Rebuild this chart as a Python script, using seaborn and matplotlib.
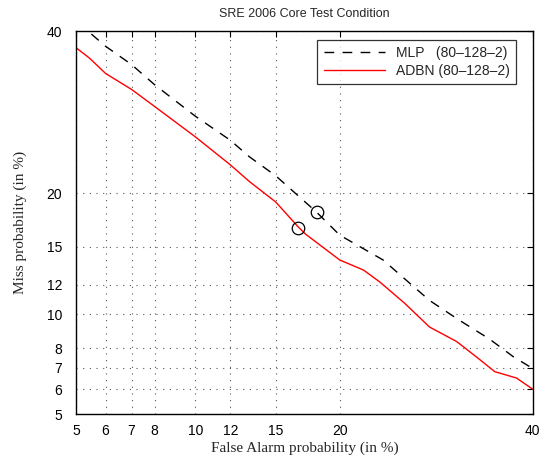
import math
import numpy as np
import pandas as pd
import matplotlib
matplotlib.use("Agg")
import matplotlib.pyplot as plt
import seaborn as sns

# DET curve values (percent)
mlp_fa = [5.5, 6, 7, 8, 10, 12, 13.2, 15, 18.1, 20, 23.9, 26.2, 28.5, 31.7, 35.0, 37.7, 40]
mlp_miss = [39.6, 37.9, 35.4, 32.7, 28.7, 25.8, 23.9, 21.8, 18.1, 16.0, 13.9, 12.3, 10.9, 9.6, 8.5, 7.55, 6.95]

adbn_fa = [5, 5.43, 6, 7, 8, 10, 12, 13.2, 15, 16.6, 17.2, 20, 22.1, 23.6, 26.0, 28.5, 31.4, 33.9, 35.6, 38.1, 40]
adbn_miss = [37.7, 36.3, 34.2, 32.1, 29.9, 26.2, 23.0, 21.2, 19.1, 16.8, 16.1, 13.9, 13.1, 12.2, 10.7, 9.2, 8.35, 7.4, 6.8, 6.5, 6.0]

eer_mlp = 18.1
eer_adbn = 16.6

ticks = [5, 6, 7, 8, 10, 12, 15, 20, 40]

# normal deviate (probit) scale built from a dense erf table
_z = np.linspace(-8, 8, 40001)
_cdf = 0.5 * (1 + np.vectorize(math.erf)(_z / math.sqrt(2)))


def probit(v):
    v = np.asarray(v, dtype=float) / 100.0
    return np.interp(v, _cdf, _z)


def inv_probit(z):
    z = np.asarray(z, dtype=float)
    return 100.0 * np.interp(z, _z, _cdf)


sns.set_style("white")
plt.rcParams['font.family'] = ['Liberation Sans', 'DejaVu Sans']

df_mlp = pd.DataFrame({'fa': mlp_fa, 'miss': mlp_miss})
df_adbn = pd.DataFrame({'fa': adbn_fa, 'miss': adbn_miss})

fig, ax = plt.subplots(figsize=(5.47, 4.59), dpi=100)
fig.subplots_adjust(left=0.139, right=0.974, top=0.932, bottom=0.098)

ax.set_xscale('function', functions=(probit, inv_probit))
ax.set_yscale('function', functions=(probit, inv_probit))

sns.lineplot(data=df_mlp, x='fa', y='miss', sort=False, ax=ax, color='black',
             linewidth=1.0, label='MLP   (80\u2013128\u20132)')
ax.lines[-1].set_dashes((7, 6))
sns.lineplot(data=df_adbn, x='fa', y='miss', sort=False, ax=ax, color='red',
             linewidth=1.0, label='ADBN (80\u2013128\u20132)')

ax.plot([eer_mlp], [eer_mlp], 'o', mfc='none', mec='black', ms=9, mew=0.9)
ax.plot([eer_adbn], [eer_adbn], 'o', mfc='none', mec='black', ms=9, mew=0.9)

ax.set_xlim(5, 40)
ax.set_ylim(5, 40)
ax.set_xticks(ticks)
ax.set_xticklabels([str(t) for t in ticks])
ax.set_yticks(ticks)
ax.set_yticklabels([str(t) for t in ticks])
ax.minorticks_off()
ax.tick_params(direction='in', length=4, width=0.8, top=True, right=True,
               labelsize=10, colors='black')
ax.tick_params(axis='x', pad=7)
ax.tick_params(axis='y', pad=10)

ax.grid(True, color='#555555', linestyle=(0, (1, 5)), linewidth=0.8)
for s in ax.spines.values():
    s.set_color('black')
    s.set_linewidth(1.0)

ax.set_title('SRE 2006 Core Test Condition', fontsize=9, pad=10)
ax.set_xlabel('False Alarm probability (in %)', family=['Liberation Serif'], fontsize=11, labelpad=3)
ax.set_ylabel('Miss probability (in %)', family=['Liberation Serif'], fontsize=11, labelpad=14)

leg = ax.legend(loc='upper right', fontsize=10, frameon=True, fancybox=False,
                edgecolor='black', handlelength=4.4, borderaxespad=0,
                borderpad=0.45, labelspacing=0.25, handletextpad=0.8,
                bbox_to_anchor=(0.963, 0.977))
leg.get_frame().set_linewidth(0.9)

fig.savefig('out.png', dpi=100)
